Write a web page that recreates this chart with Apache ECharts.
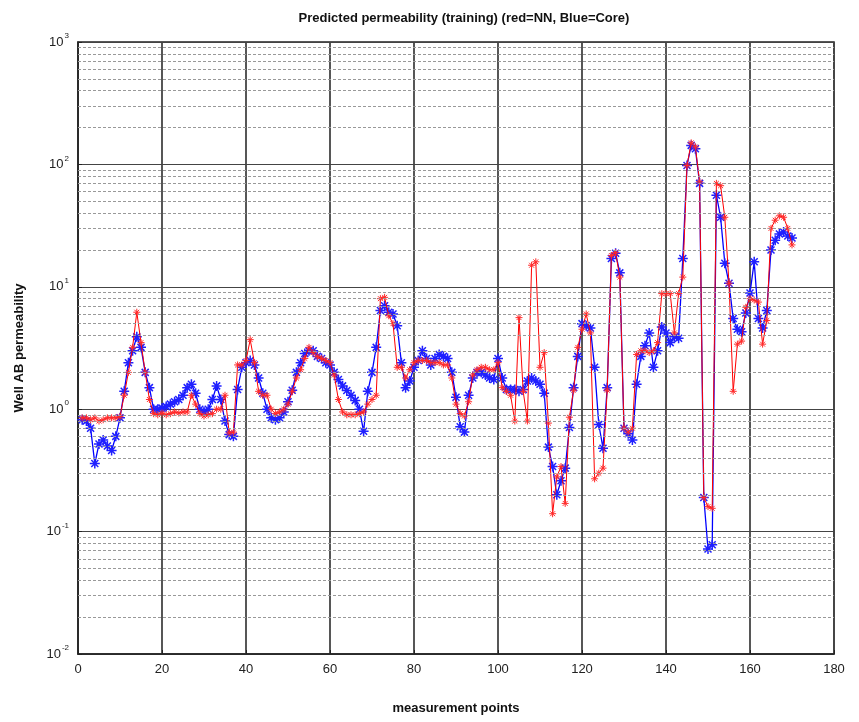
<!DOCTYPE html>
<html>
<head>
<meta charset="utf-8">
<script src="https://cdn.jsdelivr.net/npm/echarts@6/dist/echarts.min.js"></script>
<style>html,body{margin:0;padding:0;background:#fff}#c{width:859px;height:722px}</style>
</head>
<body>
<div id="c"></div>
<script>
// Core permeability (blue), one value per measurement point 1..170
const coreValues = [
0.82,0.8,0.7,0.36,0.52,0.56,0.5,0.46,0.6,0.85,
1.4,2.4,3.0,3.9,3.2,2.0,1.5,1.0,1.0,1.02,
1.05,1.1,1.15,1.2,1.3,1.5,1.6,1.35,1.0,0.95,
1.0,1.2,1.55,1.2,0.8,0.62,0.6,1.45,2.2,2.4,
2.5,2.3,1.8,1.35,1.0,0.85,0.82,0.85,0.95,1.15,
1.43,2.0,2.4,2.85,3.0,3.0,2.7,2.6,2.4,2.3,
2.0,1.75,1.55,1.42,1.3,1.18,1.0,0.66,1.4,2.0,
3.2,6.4,7.0,6.2,6.0,4.8,2.4,1.5,1.7,2.2,
2.5,3.0,2.6,2.3,2.6,2.8,2.7,2.6,2.0,1.25,
0.72,0.65,1.3,1.8,2.0,2.0,1.9,1.8,1.75,2.6,
1.8,1.45,1.45,1.45,1.4,1.45,1.7,1.8,1.7,1.6,
1.35,0.49,0.34,0.2,0.26,0.33,0.71,1.5,2.7,5.0,
4.8,4.6,2.2,0.75,0.48,1.5,17,18.8,13,0.7,
0.63,0.56,1.6,2.7,3.3,4.2,2.2,3.0,4.7,4.2,
3.5,3.9,3.8,17,98,143,134,70,0.19,0.072,
0.078,56,37,15.6,10.7,5.5,4.5,4.3,6.1,8.9,
16,5.5,4.6,6.4,20,24,27,28,26,25
];
// NN predicted permeability (red)
const nnValues = [
0.85,0.85,0.82,0.85,0.8,0.82,0.85,0.85,0.85,0.87,
1.3,2.0,3.2,6.2,3.5,2.0,1.2,0.92,0.9,0.93,
0.9,0.92,0.95,0.93,0.95,0.95,1.3,1.1,0.92,0.88,
0.9,0.92,1.0,1.0,1.3,0.64,0.65,2.3,2.3,2.5,
3.7,2.4,1.4,1.3,1.3,1.0,0.92,0.95,1.0,1.1,
1.4,1.8,2.1,2.6,3.2,2.9,2.7,2.6,2.5,2.4,
1.9,1.2,0.95,0.9,0.9,0.9,0.92,0.95,1.1,1.2,
1.3,8.0,8.2,5.8,5.0,2.2,2.2,1.8,2.1,2.4,
2.5,2.5,2.5,2.4,2.4,2.4,2.3,2.3,1.8,1.1,
0.92,0.88,1.15,1.9,2.1,2.2,2.2,2.1,2.1,2.4,
1.5,1.4,1.3,0.8,5.6,1.4,0.8,15,16,2.2,
2.9,0.77,0.14,0.28,0.34,0.17,0.86,1.43,3.2,4.5,
6.0,4.2,0.27,0.3,0.33,1.43,18,19,12,0.7,
0.65,0.7,2.8,3.0,3.0,2.9,3.0,3.5,8.8,8.8,
8.8,4.2,8.8,12,98,150,139,72,0.19,0.16,
0.155,70,67,37,10.7,1.4,3.4,3.6,6.8,8.0,
7.8,7.5,3.4,5.3,30,35,38,37,30,22
];
const xTicks = [0,20,40,60,80,100,120,140,160,180];
const yDecades = [0.01,0.1,1,10,100,1000];
const yExponents = {'0.01':'-2','0.1':'-1','1':'0','10':'1','100':'2','1000':'3'};
const minorMultipliers = [2,3,4,5,6,7,8,9];

const minorLines = [];
for (let d = 0; d < yDecades.length - 1; d++) {
  for (const m of minorMultipliers) minorLines.push({yAxis: +(yDecades[d] * m).toPrecision(3)});
}
const corePairs = coreValues.map((v, i) => [i + 1, v]);
const nnPairs = nnValues.map((v, i) => [i + 1, v]);

const star = 'path://M0,5L10,5M5,0L5,10M1.5,1.5L8.5,8.5M8.5,1.5L1.5,8.5';
const font = 'Liberation Sans, Arial, sans-serif';

const chart = echarts.init(document.getElementById('c'), null, {renderer: 'canvas'});
chart.setOption({
  animation: false,
  backgroundColor: '#fff',
  title: {
    text: 'Predicted permeability (training) (red=NN, Blue=Core)',
    left: 459, top: 7, textAlign: 'center',
    textStyle: {fontFamily: font, fontSize: 13, fontWeight: 'bold', color: '#111'}
  },
  grid: {left: 78, top: 42, right: 25, bottom: 68, show: true, borderColor: '#222', borderWidth: 1.5, containLabel: false},
  xAxis: {
    type: 'value', min: 0, max: 180, interval: 20,
    name: 'measurement points', nameLocation: 'middle', nameGap: 48,
    nameTextStyle: {fontFamily: font, fontSize: 13, fontWeight: 'bold', color: '#111'},
    axisLine: {lineStyle: {color: '#222', width: 1.5}},
    axisTick: {inside: true, length: 4, lineStyle: {color: '#222'}},
    axisLabel: {fontFamily: font, fontSize: 13, color: '#222', margin: 9},
    splitLine: {show: true, lineStyle: {color: '#444', width: 1.8}}
  },
  yAxis: {
    type: 'log', logBase: 10, min: 0.01, max: 1000,
    name: 'Well AB permeability', nameLocation: 'middle', nameGap: 52,
    nameTextStyle: {fontFamily: font, fontSize: 13, fontWeight: 'bold', color: '#111'},
    axisLine: {lineStyle: {color: '#222', width: 1.5}},
    axisTick: {inside: true, length: 4, lineStyle: {color: '#222'}},
    axisLabel: {
      fontFamily: font, color: '#222', margin: 9,
      formatter: v => '{b|10}{e|' + (yExponents[String(+v.toPrecision(3))] || '') + '}',
      rich: {
        b: {fontFamily: font, fontSize: 13, color: '#222'},
        e: {fontFamily: font, fontSize: 8, color: '#222', padding: [0, 0, 12, 1]}
      }
    },
    splitLine: {show: true, lineStyle: {color: '#444', width: 1.2}}
  },
  series: [
    {
      type: 'line', data: [], silent: true, z: 1,
      markLine: {
        silent: true, symbol: ['none', 'none'], animation: false,
        label: {show: false},
        lineStyle: {color: '#999', type: [3, 2], width: 1},
        data: minorLines
      }
    },
    {
      name: 'Core', type: 'line', data: corePairs, z: 3,
      lineStyle: {color: '#0000ff', width: 1.3},
      symbol: star, symbolSize: 10, showAllSymbol: true,
      itemStyle: {color: 'rgba(0,0,0,0)', borderColor: '#2020ff', borderWidth: 1.5}
    },
    {
      name: 'NN', type: 'line', data: nnPairs, z: 4,
      lineStyle: {color: '#ff0000', width: 1},
      symbol: star, symbolSize: 7, showAllSymbol: true,
      itemStyle: {color: 'rgba(0,0,0,0)', borderColor: '#ff2a2a', borderWidth: 1}
    }
  ]
});
</script>
</body>
</html>
